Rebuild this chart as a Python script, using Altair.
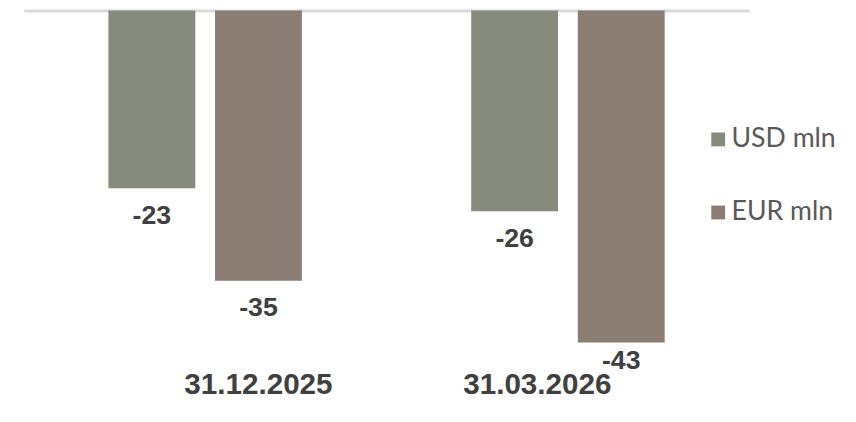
import altair as alt
import pandas as pd

dates = ["31.12.2025", "31.03.2026"]
series = ["USD mln", "EUR mln"]
usd_values = [-23, -26]
eur_values = [-35, -43]
colors = ["#868b7e", "#8a7e74"]

rows = []
for i, d in enumerate(dates):
    rows.append({"date": d, "series": series[0], "value": usd_values[i], "label": str(usd_values[i])})
    rows.append({"date": d, "series": series[1], "value": eur_values[i], "label": str(eur_values[i])})
df = pd.DataFrame(rows)

x_scale = alt.Scale(paddingInner=0.4667, paddingOuter=0.2333)
xoff = alt.XOffset("series:N", sort=series, scale=alt.Scale(paddingInner=0.185, paddingOuter=0))
y_scale = alt.Scale(domain=[-45, 0], nice=False)

base = alt.Chart(df)

bars = base.mark_bar().encode(
    x=alt.X(
        "date:N", sort=dates, scale=x_scale,
        axis=alt.Axis(
            title=None, domain=False, ticks=False, labelAngle=0,
            labelFont="Liberation Sans", labelFontSize=30, labelFontWeight="bold",
            labelColor="#404040", labelPadding=12,
            labelOffset={"condition": {"test": "datum.label == '31.12.2025'", "value": 54}, "value": -31},
        ),
    ),
    xOffset=xoff,
    y=alt.Y("value:Q", scale=y_scale, axis=None),
    color=alt.Color(
        "series:N",
        sort=series,
        scale=alt.Scale(domain=series, range=colors),
        legend=alt.Legend(
            title=None, orient="none", legendX=690, legendY=117,
            symbolType="square", symbolSize=196, symbolStrokeWidth=0,
            labelFont="Lato", labelFontSize=27, labelColor="#595959",
            labelOffset=0, rowPadding=46,
        ),
    ),
)

# data labels are kept inside the plot area (as the spreadsheet does)
labels = base.transform_calculate(
    label_pos="max(datum.value, -41.8)"
).mark_text(
    dy=28, baseline="middle", font="Liberation Sans", fontSize=27,
    fontWeight="bold", color="#404040",
).encode(
    x=alt.X(
        "date:N", sort=dates, scale=x_scale,
        axis=alt.Axis(
            title=None, orient="top", domain=True, domainColor="#d9d9d9",
            domainWidth=3, ticks=False, labels=False,
        ),
    ),
    xOffset=xoff,
    y=alt.Y("label_pos:Q", scale=y_scale, axis=None),
    text=alt.Text("label:N"),
)

chart = alt.layer(bars, labels).resolve_axis(x="independent").properties(
    width=735,
    height=352,
    autosize=alt.AutoSizeParams(type="none"),
    padding={"left": 16, "top": 0, "right": 100, "bottom": 50},
).configure_view(stroke=None)

chart.save("out.html", embed_options={"renderer": "svg", "actions": False})
